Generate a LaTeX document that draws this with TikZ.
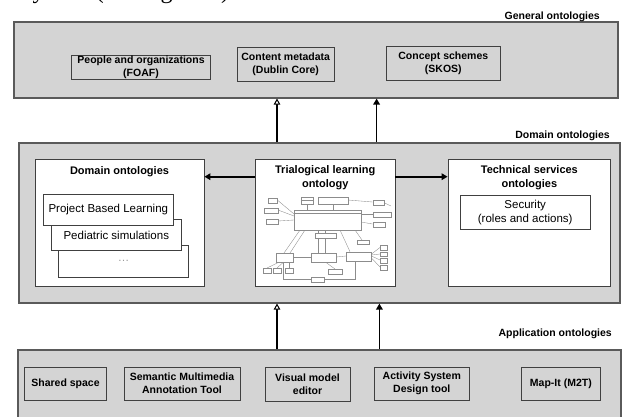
\documentclass[tikz,border=0pt]{standalone}
\usepackage{fontspec}
\setmainfont{Liberation Sans}
\newfontfamily\bodyserif{Liberation Serif}
\usetikzlibrary{arrows.meta}
\definecolor{panelgray}{HTML}{D4D4D4}
\definecolor{edgegray}{HTML}{5A5A5A}
\definecolor{umlgray}{HTML}{8C8C8C}

\begin{document}
\begin{tikzpicture}[x=1pt,y=-1pt,
  panel/.style={draw=edgegray, line width=1.1pt, fill=panelgray, inner sep=0pt},
  itembox/.style={draw=black!75, line width=0.7pt, fill=panelgray, align=center, inner sep=0pt,
    font=\fontsize{10.5}{13}\selectfont\bfseries},
  ontobox/.style={draw=black!75, line width=0.8pt, fill=white, inner sep=0pt},
  subbox/.style={draw=black!75, line width=0.7pt, fill=white, inner sep=0pt, align=center,
    font=\fontsize{11.5}{14}\selectfont},
  boxtitle/.style={anchor=north, align=center, inner sep=0pt, font=\fontsize{11}{13.5}\selectfont\bfseries},
  layername/.style={anchor=base east, inner sep=0pt, font=\fontsize{10.5}{12}\selectfont\bfseries},
  openup/.style={line width=1.6pt, -{Triangle[length=6pt,width=6.5pt,fill=white,line width=1pt]}},
  fullup/.style={line width=1.6pt, -{Triangle[length=6pt,width=6.5pt]}},
]
  \useasboundingbox (0,0) rectangle (623,416);

  %% cut-off line of the page text above the figure
  \begin{scope}
    \clip (0,0) rectangle (623,8);
    \node[anchor=base west, inner sep=0pt, font=\bodyserif\fontsize{24}{24}\selectfont] (pagetext)
      at (23,-1.2) {system (see Figure 4)};
  \end{scope}

  %% the three layers
  \node[panel, minimum width=604pt, minimum height=76pt] (general) at (316,60) {};
  \node[panel, minimum width=601pt, minimum height=160pt] (domainlayer) at (319.5,223) {};
  \node[panel, minimum width=603pt, minimum height=80pt] (applayer) at (319.5,390) {};

  \node[layername] (generalname) at (600,19.5) {General ontologies};
  \node[layername] (domainname) at (610,138.5) {Domain ontologies};
  \node[layername] (appname) at (612,336) {Application ontologies};

  %% general ontologies
  \node[itembox, minimum width=139pt, minimum height=24.5pt] (foaf) at (141,67.2)
    {People and organizations\\(FOAF)};
  \node[itembox, minimum width=97.5pt, minimum height=34pt] (dublin) at (285.7,64.3)
    {Content metadata\\(Dublin Core)};
  \node[itembox, minimum width=113.4pt, minimum height=34pt] (skos) at (443.3,63)
    {Concept schemes\\(SKOS)};

  %% domain ontologies
  \node[ontobox, minimum width=169pt, minimum height=127.4pt] (domain) at (119.5,223) {};
  \node[ontobox, minimum width=139.5pt, minimum height=127.4pt] (trial) at (325.25,223) {};
  \node[ontobox, minimum width=162.7pt, minimum height=127.4pt] (tech) at (529.35,223) {};

  \node[boxtitle] (domaintitle) at ([yshift=-7pt]domain.north) {Domain ontologies};
  \node[boxtitle] (trialtitle) at ([yshift=-6.5pt]trial.north) {Trialogical learning\\ontology};
  \node[boxtitle] (techtitle) at ([yshift=-6.5pt]tech.north) {Technical services\\ontologies};

  \node[subbox, minimum width=130.4pt, minimum height=32pt] (more) at (123.5,261.3)
    {\textcolor{black!40}{\dots}};
  \node[subbox, minimum width=130.6pt, minimum height=31.4pt] (pediatric) at (116.3,235)
    {Pediatric simulations};
  \node[subbox, minimum width=130.6pt, minimum height=31.4pt] (pbl) at (108.3,210)
    {Project Based Learning};
  \node[subbox, minimum width=130.4pt, minimum height=34.3pt] (security) at (525.2,212.2)
    {Security\\(roles and actions)};

  %% small picture of the trialogical ontology
  \begin{scope}[draw=umlgray, line width=0.35pt]
    \foreach \xa/\ya/\xb/\yb in {277.3/200/294/214, 278/210/294/216, 278/221/294/220,
        307/204/307/210, 333/204/333/210, 348/200/372.7/202, 361/214/372.7/214,
        361/222/372.7/224, 300/230/284/253, 305/230/290/253, 318/230/318/253,
        325/230/325/233, 325/238/325/253, 340/230/350/251.7, 355/230/362/240,
        336/257/346/256, 293/257/311.5/257, 371.5/254/380.6/247, 371.5/255/380/254,
        371.5/256/380/260, 371.5/258/380/267, 280/261.7/267/268, 284/261.7/277/268,
        289/261.7/289/268, 325/261.7/335/269, 384.6/203/391/206}
      \draw (\xa,\ya) -- (\xb,\yb);
    \draw (283,261.7) -- (283,279) -- (311.5,279);
    \draw (355,260.7) -- (355,279) -- (324,279);
    \foreach \xa/\ya/\xb/\yb in {268.6/198/277.3/203, 264.6/208/278/213, 266/219/278/224,
        301/196.7/313/200.5, 301/200.5/313/204, 318/197/348/204, 372.7/200/384.6/205,
        372.7/211.7/391/217, 372.7/221.7/385/226.7, 294/210/361/230, 314.7/233/336/238,
        357.6/240/369.5/244, 380.6/245/387/250, 380/251.7/387/256, 380/258/387/262.7,
        380/265/387/270, 275.7/253/293/261.7, 311.5/253/336/261.7, 346/251.7/371.5/260.7,
        263/268/271/273, 273/268/281/273, 285/268/293/273, 328/269/342.5/274,
        311.5/276.7/324/281.7}
      \draw[fill=white] (\xa,\ya) rectangle (\xb,\yb);
    \draw (294,213) -- (361,213);
  \end{scope}

  %% application ontologies
  \node[itembox, minimum width=82pt, minimum height=33pt] (shared) at (65.5,383.5) {Shared space};
  \node[itembox, minimum width=116pt, minimum height=33pt] (semantic) at (182,383.5)
    {Semantic Multimedia\\Annotation Tool};
  \node[itembox, minimum width=85pt, minimum height=34pt] (visual) at (307.5,384) {Visual model\\editor};
  \node[itembox, minimum width=95.6pt, minimum height=33pt] (activity) at (421.8,383.5)
    {Activity System\\Design tool};
  \node[itembox, minimum width=79.7pt, minimum height=33pt] (mapit) at (560.9,383.5) {Map-It (M2T)};

  %% connectors
  \coordinate (arrowrow) at (0,176.7);
  \coordinate (colopen) at (277,0);
  \coordinate (colfull) at (376.6,0);
  \coordinate (colfulllow) at (379.4,0);

  \draw[fullup] (trial.west |- arrowrow) -- (domain.east |- arrowrow); %% trial -> domain
  \draw[fullup] (trial.east |- arrowrow) -- (tech.west |- arrowrow); %% trial -> tech

  \draw[openup] (colopen |- domainlayer.north) -- (colopen |- general.south);
  \draw[fullup] (colfull |- domainlayer.north) -- (colfull |- general.south);
  \draw[openup] (colopen |- applayer.north) -- (colopen |- domainlayer.south);
  \draw[fullup] (colfulllow |- applayer.north) -- (colfulllow |- domainlayer.south);

\end{tikzpicture}
\end{document}
